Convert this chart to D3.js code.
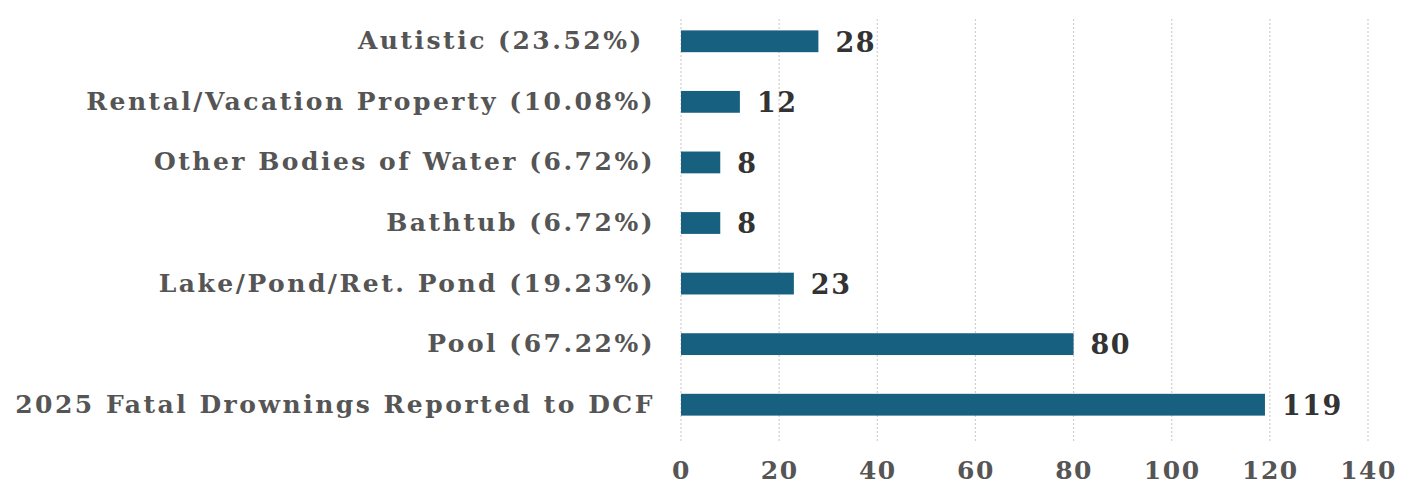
<!DOCTYPE html>
<html>
<head>
<meta charset="utf-8">
<script src="https://cdn.jsdelivr.net/npm/d3@7"></script>
<style>
  body { margin: 0; background: #fff; }
</style>
</head>
<body>
<svg id="chart"></svg>
<script>
// categories top to bottom, values, tick labels
var categories = [
  "Autistic (23.52%) ",
  "Rental/Vacation Property (10.08%)",
  "Other Bodies of Water (6.72%)",
  "Bathtub (6.72%)",
  "Lake/Pond/Ret. Pond (19.23%)",
  "Pool (67.22%)",
  "2025 Fatal Drownings Reported to DCF"
];
var values = [28, 12, 8, 8, 23, 80, 119];
var ticks = [0, 20, 40, 60, 80, 100, 120, 140];

var margin = { top: 11, right: 54, bottom: 56, left: 681 },
    width = 1422 - margin.left - margin.right,
    height = 491 - margin.top - margin.bottom;

var svg = d3.select('#chart')
    .attr('width', 1422)
    .attr('height', 491)
  .append('g')
    .attr('transform', 'translate(' + margin.left + ',' + margin.top + ')');

var x = d3.scaleLinear().domain([0, 140]).range([0, width]);
var y = d3.scaleBand().domain(categories).range([0, height]).paddingInner(0.64).paddingOuter(0.32);

// dotted grid lines
svg.append('g').selectAll('line').data(ticks).enter().append('line')
    .attr('x1', function(d){ return x(d); })
    .attr('x2', function(d){ return x(d); })
    .attr('y1', 8)
    .attr('y2', height + 8)
    .attr('stroke', '#cfcfcf')
    .attr('stroke-width', 1.2)
    .attr('stroke-dasharray', '2,2');

// x axis labels
var xAxis = d3.axisBottom(x).tickValues(ticks).tickSize(0).tickPadding(0);
var gx = svg.append('g').attr('transform', 'translate(0,' + (height + 26) + ')').call(xAxis);
gx.select('.domain').remove();
gx.selectAll('text')
    .attr('font-family', '"DejaVu Serif", serif')
    .attr('font-weight', 'bold')
    .attr('font-size', 25)
    .attr('letter-spacing', 1.5)
    .attr('fill', '#555');

// y axis labels
var yAxis = d3.axisLeft(y).tickSize(0).tickPadding(26);
var gy = svg.append('g').call(yAxis);
gy.select('.domain').remove();
gy.selectAll('text')
    .attr('font-family', '"DejaVu Serif", serif')
    .attr('font-weight', 'bold')
    .attr('font-size', 25)
    .attr('letter-spacing', 2.5)
    .attr('fill', '#555')
    .style('white-space', 'pre');

// bars
svg.append('g').selectAll('rect').data(values).enter().append('rect')
    .attr('x', x(0))
    .attr('y', function(d, i){ return y(categories[i]); })
    .attr('width', function(d){ return x(d) - x(0); })
    .attr('height', y.bandwidth())
    .attr('fill', '#17607f');

// value labels
svg.append('g').selectAll('text').data(values).enter().append('text')
    .attr('x', function(d){ return x(d) + 17; })
    .attr('y', function(d, i){ return y(categories[i]) + y.bandwidth() / 2; })
    .attr('dy', '0.38em')
    .attr('font-family', '"DejaVu Serif", serif')
    .attr('font-weight', 'bold')
    .attr('font-size', 27)
    .attr('letter-spacing', 1.5)
    .attr('fill', '#333')
    .text(function(d){ return d; });
</script>
</body>
</html>
